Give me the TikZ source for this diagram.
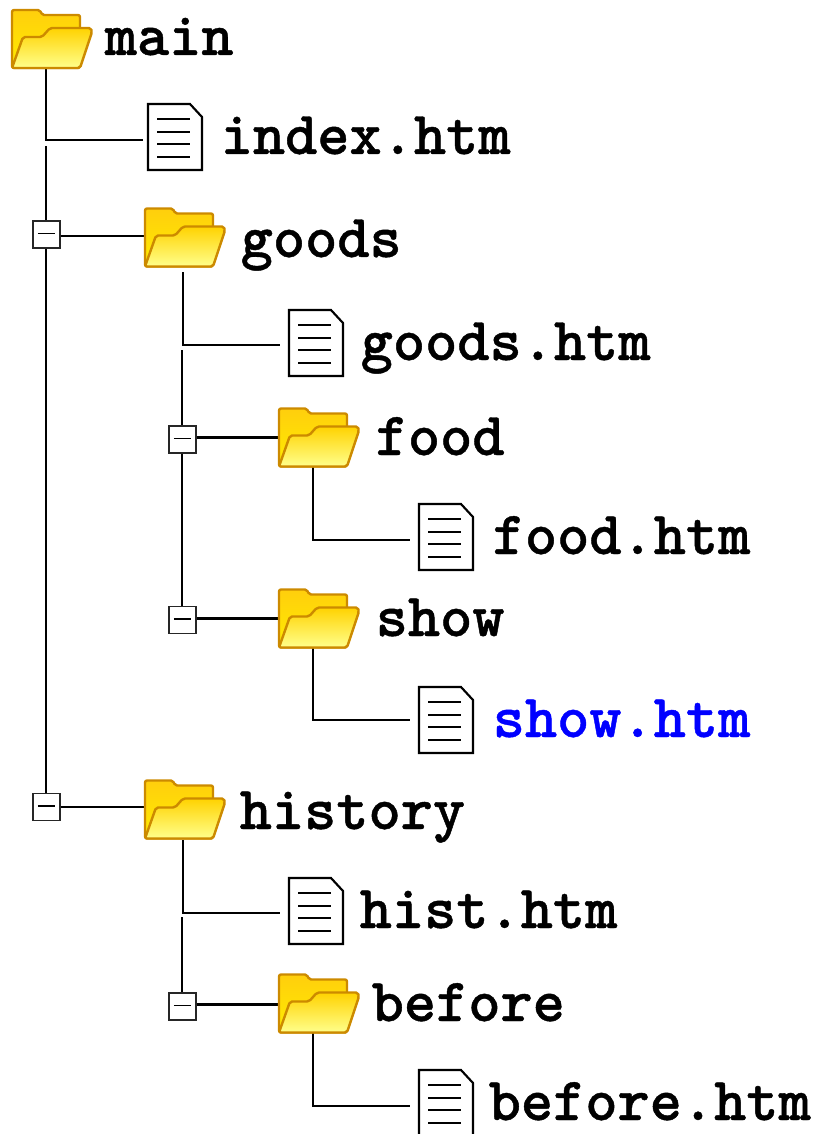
\documentclass[tikz,border=0pt]{standalone}
\usepackage{fontspec}
\newfontfamily\labfont[BoldFeatures={FakeBold=0.7}]{Latin Modern Mono Light}
\definecolor{foldline}{HTML}{CC8A00}
\tikzset{
  x=0.75pt,y=-0.75pt,
  conn/.style={line width=2pt,black},
  folderbox/.style={inner sep=0pt,minimum width=60pt,minimum height=43.5pt},
  docbox/.style={inner sep=0pt,minimum width=41.25pt,minimum height=49.5pt},
  pmbox/.style={draw=black!85,fill=white,line width=1.2pt,inner sep=0pt,minimum width=20pt,minimum height=20pt},
  minusmark/.style={line width=1.3pt,black},
  lab/.style={anchor=base west,inner sep=0pt,xshift=-0.4pt,yshift=-1.5pt,font=\fontsize{46}{46}\selectfont\labfont\bfseries},
  folder/.pic={
    \begin{scope}[shift={(-40,-29)},line width=1.8pt,draw=foldline,line join=round]
      \path[draw=foldline,top color=yellow!60!orange!95!white,bottom color=yellow!85!orange,rounded corners=1.5pt]
        (0,58) -- (0,0) -- (28,0) -- (30,5) -- (68,5) -- (68,30) -- (68,58) -- cycle;
      \path[draw=foldline,top color=yellow!65!orange,bottom color=yellow!45!white,rounded corners=1.5pt]
        (0,58) -- (11,27) -- (30,27) -- (38,18) -- (79,18) -- (80,22) -- (68,58) -- cycle;
    \end{scope}
  },
  doc/.pic={
    \begin{scope}[shift={(-27.5,-33)},line width=1.6pt,black]
      \draw[fill=white,line join=miter] (0,0) -- (42,0) -- (54,13) -- (54,66) -- (0,66) -- cycle;
      \draw (9,15) -- (42,15) (9,28) -- (42,28) (9,40) -- (42,40) (9,53) -- (42,53);
    \end{scope}
  }
}
\newcommand{\minusin}[1]{\draw[minusmark] ([xshift=-6.5pt,yshift=0.75pt]#1.center) -- ([xshift=6.5pt,yshift=0.75pt]#1.center);}
\begin{document}
\begin{tikzpicture}
\useasboundingbox (0,0) rectangle (817,1134);
% icon holders
\node[folderbox] (fmain) at (52,39) {};
\node[docbox] (dindex) at (175.5,137) {};
\node[folderbox] (fgoods) at (185,237.5) {};
\node[docbox] (dgoods) at (316.5,343) {};
\node[folderbox] (ffood) at (319,437.5) {};
\node[docbox] (dfood) at (446.5,537) {};
\node[folderbox] (fshow) at (319,618.5) {};
\node[docbox] (dshow) at (446.5,720) {};
\node[folderbox] (fhist) at (185,809.5) {};
\node[docbox] (dhist) at (316.5,911) {};
\node[folderbox] (fbefore) at (319,1003.5) {};
\node[docbox] (dbefore) at (446.5,1103) {};
% junctions and connector ends
\coordinate (j1) at (46,140);   \coordinate (j1b) at (46,146);  \coordinate (e1) at (143,140);
\coordinate (j2) at (183,345);  \coordinate (j2b) at (182,350); \coordinate (e2) at (280,345);
\coordinate (j3) at (313,540);  \coordinate (e3) at (410,540);
\coordinate (j4) at (313,720);  \coordinate (e4) at (410,720);
\coordinate (j5) at (183,913);  \coordinate (j5b) at (182,917); \coordinate (e5) at (280,913);
\coordinate (j6) at (313,1106); \coordinate (e6) at (410,1106);
\coordinate (c1) at (145,236);
\coordinate (c2) at (145,807);
\coordinate (c3) at (279,437.5);
\coordinate (c4) at (279,618.5);
\coordinate (c5) at (279,1004.5);
\coordinate (s2) at (183,272);
\coordinate (s5) at (183,840);
% expander boxes
\node[pmbox] (p1) at (46.5,234.5) {};
\node[pmbox] (p2) at (46.5,807) {};
\node[pmbox] (p3) at (182.5,439.5) {};
\node[pmbox] (p4) at (182.5,620) {};
\node[pmbox] (p5) at (182.5,1006.5) {};
% connectors
\draw[conn] (fmain.south -| j1) -- (j1) -- (e1);
\draw[conn] (j1b) -- (j1b |- p1.north);
\draw[conn] (j1b |- p1.south) -- (j1b |- p2.north);
\draw[conn] (p1.east |- c1) -- (c1);
\draw[conn] (p2.east |- c2) -- (c2);
\draw[conn] (s2) -- (j2) -- (e2);
\draw[conn] (j2b) -- (j2b |- p3.north);
\draw[conn] (j2b |- p3.south) -- (j2b |- p4.north);
\draw[conn] (p3.east |- c3) -- (c3);
\draw[conn] (p4.east |- c4) -- (c4);
\draw[conn] (ffood.south -| j3) -- (j3) -- (e3);
\draw[conn] (fshow.south -| j4) -- (j4) -- (e4);
\draw[conn] (s5) -- (j5) -- (e5);
\draw[conn] (j5b) -- (j5b |- p5.north);
\draw[conn] (p5.east |- c5) -- (c5);
\draw[conn] (fbefore.south -| j6) -- (j6) -- (e6);
\minusin{p1}\minusin{p2}\minusin{p3}\minusin{p4}\minusin{p5}
% icons
\foreach \n in {fmain,fgoods,ffood,fshow,fhist,fbefore} \pic at (\n) {folder};
\foreach \n in {dindex,dgoods,dfood,dshow,dhist,dbefore} \pic at (\n) {doc};
% labels
\node[lab] (tmain) at (105,53) {main};
\node[lab] (tindex) at (221,152) {index.htm};
\node[lab] (tgoods) at (241,255) {goods};
\node[lab] (tgoodsh) at (361,358) {goods.htm};
\node[lab] (tfood) at (376,453) {food};
\node[lab] (tfoodh) at (493,552) {food.htm};
\node[lab] (tshow) at (376,634) {show};
\node[lab,text=blue] (tshowh) at (493,735) {show.htm};
\node[lab] (thist) at (240,827) {history};
\node[lab] (thisth) at (360,926) {hist.htm};
\node[lab] (tbefore) at (372,1019) {before};
\node[lab] (tbeforeh) at (489,1118) {before.htm};
\end{tikzpicture}
\end{document}
